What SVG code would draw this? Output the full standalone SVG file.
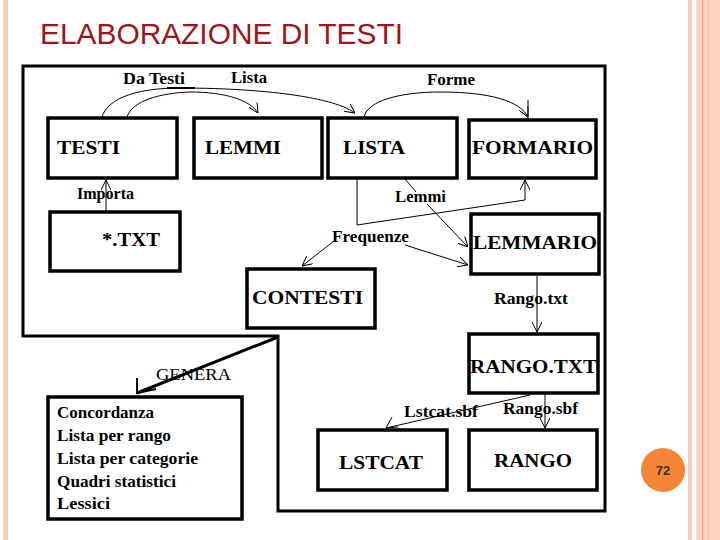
<svg xmlns="http://www.w3.org/2000/svg" width="720" height="540" viewBox="0 0 720 540">
<defs>
<style>
.box{fill:#fff;stroke:#000;stroke-width:3.5}
.nt{font-family:"Liberation Serif","Times New Roman",serif;font-weight:bold;font-size:19px;fill:#000}
.lb{font-family:"Liberation Serif","Times New Roman",serif;font-weight:bold;font-size:16px;fill:#000}
.li{font-family:"Liberation Serif","Times New Roman",serif;font-weight:bold;font-size:16px;fill:#000}
.cn{fill:none;stroke:#000;stroke-width:1}
</style>
<marker id="ar" viewBox="0 0 10 10" refX="10" refY="5" markerWidth="10" markerHeight="10" markerUnits="userSpaceOnUse" orient="auto">
<path d="M0,0 L10,5 L0,10" fill="none" stroke="#000" stroke-width="1"/>
</marker>
</defs>
<rect width="720" height="540" fill="#fff"/>
<rect x="3" y="0" width="5" height="540" fill="#f8cbb8"/>
<rect x="688" y="0" width="4" height="540" fill="#f9ccb9"/>
<rect x="696" y="0" width="24" height="540" fill="#fdd3c1"/>
<rect x="702" y="0" width="1.5" height="540" fill="#f0b08e"/>
<rect x="708" y="0" width="1" height="540" fill="#f6c2a8"/>
<text x="40" y="44" font-family="'Liberation Sans',Arial,sans-serif" font-size="29" fill="#9a161c" textLength="363" lengthAdjust="spacingAndGlyphs">ELABORAZIONE DI TESTI</text>

<polygon points="23,66 605,66 605,511 278,511 278,336 23,336" fill="none" stroke="#000" stroke-width="3"/>

<g id="connectors">
<path class="cn" d="M102,117 C108,97 140,88 180,88 C250,88 330,95 355,113" marker-end="url(#ar)"/>
<path d="M167,88 L195,88" stroke="#000" stroke-width="2"/>
<path class="cn" d="M127,117 C132,101 160,93 190,92 C225,92 250,100 258,113" marker-end="url(#ar)"/>
<path class="cn" d="M364,118 C366,101 400,92 440,92 C490,92 520,101 528,117" marker-end="url(#ar)"/>
<path class="cn" d="M528,100 L528,120"/>
<path class="cn" d="M106,211 L106,180" marker-end="url(#ar)"/>
<path class="cn" d="M357,179 L357,225 L525,200 L525,180" marker-end="url(#ar)"/>
<path class="cn" d="M334,241 L302,266" marker-end="url(#ar)"/>
<path class="cn" d="M405,245 L468,265" marker-end="url(#ar)"/>
<path class="cn" d="M405,179 L416,192"/>
<path class="cn" d="M427,204 L468,247" marker-end="url(#ar)"/>
<path class="cn" d="M537,276 L537,332" marker-end="url(#ar)"/>
<path class="cn" d="M530,395 L386,428"/>
<path class="cn" d="M392,417 L386,428 L398,427"/>
<path class="cn" d="M545,394 L545,428" marker-end="url(#ar)"/>
<path d="M278,337 L137,393" stroke="#000" stroke-width="3" fill="none"/>
<path d="M137,378 L137,393 L156,389" stroke="#000" stroke-width="2" fill="none"/>
</g>

<g id="labels">
<text class="lb" x="123" y="84" textLength="62" lengthAdjust="spacingAndGlyphs">Da Testi</text>
<text class="lb" x="231" y="83" textLength="36" lengthAdjust="spacingAndGlyphs">Lista</text>
<text class="lb" x="427" y="85" textLength="48" lengthAdjust="spacingAndGlyphs">Forme</text>
<text class="lb" x="77" y="199" textLength="57" lengthAdjust="spacingAndGlyphs">Importa</text>
<text class="lb" x="395" y="202" textLength="51" lengthAdjust="spacingAndGlyphs">Lemmi</text>
<text class="lb" x="332" y="242" textLength="77" lengthAdjust="spacingAndGlyphs">Frequenze</text>
<text class="lb" x="494" y="304" textLength="74" lengthAdjust="spacingAndGlyphs">Rango.txt</text>
<text x="156" y="380" font-family="'Liberation Serif','Times New Roman',serif" font-size="17" textLength="75" lengthAdjust="spacingAndGlyphs">GENERA</text>
<text class="lb" x="404" y="417" textLength="74" lengthAdjust="spacingAndGlyphs">Lstcat.sbf</text>
<text class="lb" x="503" y="414" textLength="75" lengthAdjust="spacingAndGlyphs">Rango.sbf</text>
</g>

<g id="testi"><rect class="box" x="48" y="118" width="129" height="60"/><text class="nt" x="57" y="154" textLength="63" lengthAdjust="spacingAndGlyphs">TESTI</text></g>
<g id="lemmi"><rect class="box" x="194" y="118" width="128" height="60"/><text class="nt" x="205" y="154" textLength="76" lengthAdjust="spacingAndGlyphs">LEMMI</text></g>
<g id="lista"><rect class="box" x="328" y="118" width="129" height="60"/><text class="nt" x="343" y="154" textLength="62" lengthAdjust="spacingAndGlyphs">LISTA</text></g>
<g id="formario"><rect class="box" x="469" y="120" width="127" height="58" stroke-width="4"/><text class="nt" x="472" y="154" textLength="121" lengthAdjust="spacingAndGlyphs">FORMARIO</text></g>
<g id="txt"><rect class="box" x="50" y="212" width="130" height="59"/><text class="nt" x="102" y="246" textLength="58" lengthAdjust="spacingAndGlyphs">*.TXT</text></g>
<g id="lemmario"><rect class="box" x="471" y="214" width="128" height="60" stroke-width="4"/><text class="nt" x="473" y="249" textLength="124" lengthAdjust="spacingAndGlyphs">LEMMARIO</text></g>
<g id="contesti"><rect class="box" x="247" y="269" width="128" height="59"/><text class="nt" x="252" y="304" textLength="111" lengthAdjust="spacingAndGlyphs">CONTESTI</text></g>
<g id="rangotxt"><rect class="box" x="469" y="334" width="129" height="59" stroke-width="4"/><text class="nt" x="470" y="373" textLength="127" lengthAdjust="spacingAndGlyphs">RANGO.TXT</text></g>
<g id="lstcat"><rect class="box" x="318" y="430" width="129" height="60"/><text class="nt" x="339" y="469" textLength="84" lengthAdjust="spacingAndGlyphs">LSTCAT</text></g>
<g id="rango"><rect class="box" x="469" y="430" width="128" height="60"/><text class="nt" x="494" y="467" textLength="78" lengthAdjust="spacingAndGlyphs">RANGO</text></g>
<g id="output"><rect class="box" x="48" y="397" width="194" height="122"/>
<text class="li" x="57" y="418" textLength="97" lengthAdjust="spacingAndGlyphs">Concordanza</text>
<text class="li" x="57" y="441" textLength="114" lengthAdjust="spacingAndGlyphs">Lista per rango</text>
<text class="li" x="57" y="464" textLength="141" lengthAdjust="spacingAndGlyphs">Lista per categorie</text>
<text class="li" x="57" y="487" textLength="119" lengthAdjust="spacingAndGlyphs">Quadri statistici</text>
<text class="li" x="57" y="509" textLength="53" lengthAdjust="spacingAndGlyphs">Lessici</text>
</g>

<g id="pagenum"><circle cx="663" cy="470" r="22" fill="#f58436"/><text x="663" y="475" text-anchor="middle" font-family="'Liberation Sans',Arial,sans-serif" font-weight="bold" font-size="13" fill="#333">72</text></g>
</svg>
